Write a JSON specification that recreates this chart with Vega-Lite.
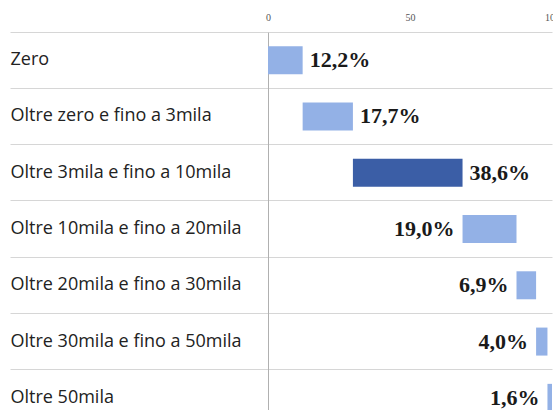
{
  "$schema": "https://vega.github.io/schema/vega-lite/v6.json",
  "autosize": {"type": "none"},
  "width": 284,
  "height": 378,
  "padding": {"left": 268, "top": 32, "right": 1, "bottom": 0},
  "background": "white",
  "data": {
    "values": [
      {"fascia": "Zero", "pct": 12.2, "start": 0, "end": 12.2, "etichetta": "12,2%"},
      {"fascia": "Oltre zero e fino a 3mila", "pct": 17.7, "start": 12.2, "end": 29.9, "etichetta": "17,7%"},
      {"fascia": "Oltre 3mila e fino a 10mila", "pct": 38.6, "start": 29.9, "end": 68.5, "etichetta": "38,6%"},
      {"fascia": "Oltre 10mila e fino a 20mila", "pct": 19.0, "start": 68.5, "end": 87.5, "etichetta": "19,0%"},
      {"fascia": "Oltre 20mila e fino a 30mila", "pct": 6.9, "start": 87.5, "end": 94.4, "etichetta": "6,9%"},
      {"fascia": "Oltre 30mila e fino a 50mila", "pct": 4.0, "start": 94.4, "end": 98.4, "etichetta": "4,0%"},
      {"fascia": "Oltre 50mila", "pct": 1.6, "start": 98.4, "end": 100, "etichetta": "1,6%"}
    ]
  },
  "encoding": {
    "y": {
      "field": "fascia",
      "type": "nominal",
      "sort": null,
      "title": null,
      "scale": {"range": [0, 394], "paddingInner": 0, "paddingOuter": 0},
      "axis": {
        "orient": "left",
        "bandPosition": 0,
        "grid": true,
        "gridColor": "#d6d6d6",
        "gridWidth": 1,
        "ticks": true,
        "tickSize": 258,
        "tickColor": "#d6d6d6",
        "domain": true,
        "domainColor": "#b0b0b0",
        "labelAlign": "left",
        "labelBaseline": "middle",
        "labelPadding": 0,
        "labelFont": "Open Sans",
        "labelFontSize": 18,
        "labelColor": "#222222",
        "labelLimit": 260
      }
    }
  },
  "layer": [
    {
      "mark": {"type": "bar", "height": 28},
      "encoding": {
        "x": {
          "field": "start",
          "type": "quantitative",
          "scale": {"domain": [0, 100], "nice": false, "zero": false},
          "title": null,
          "axis": {
            "orient": "top",
            "values": [0, 50, 100],
            "grid": false,
            "ticks": false,
            "tickSize": 0,
            "domain": false,
            "labelPadding": 10,
            "labelFont": "Liberation Serif",
            "labelFontSize": 10,
            "labelColor": "#555555",
            "labelFlush": false,
            "labelBound": false
          }
        },
        "x2": {"field": "end"},
        "color": {
          "condition": {"test": "datum.pct > 30", "value": "#3b5ea6"},
          "value": "#93b1e6"
        }
      }
    },
    {
      "transform": [{"filter": "datum.end < 70"}],
      "mark": {"type": "text", "align": "left", "baseline": "middle", "dx": 7, "font": "Liberation Serif", "fontWeight": "bold", "fontSize": 22, "color": "#1a1a1a"},
      "encoding": {
        "x": {"field": "end", "type": "quantitative"},
        "text": {"field": "etichetta"}
      }
    },
    {
      "transform": [{"filter": "datum.end >= 70"}],
      "mark": {"type": "text", "align": "right", "baseline": "middle", "dx": -8, "font": "Liberation Serif", "fontWeight": "bold", "fontSize": 22, "color": "#1a1a1a"},
      "encoding": {
        "x": {"field": "start", "type": "quantitative"},
        "text": {"field": "etichetta"}
      }
    }
  ],
  "config": {"view": {"stroke": null}}
}
